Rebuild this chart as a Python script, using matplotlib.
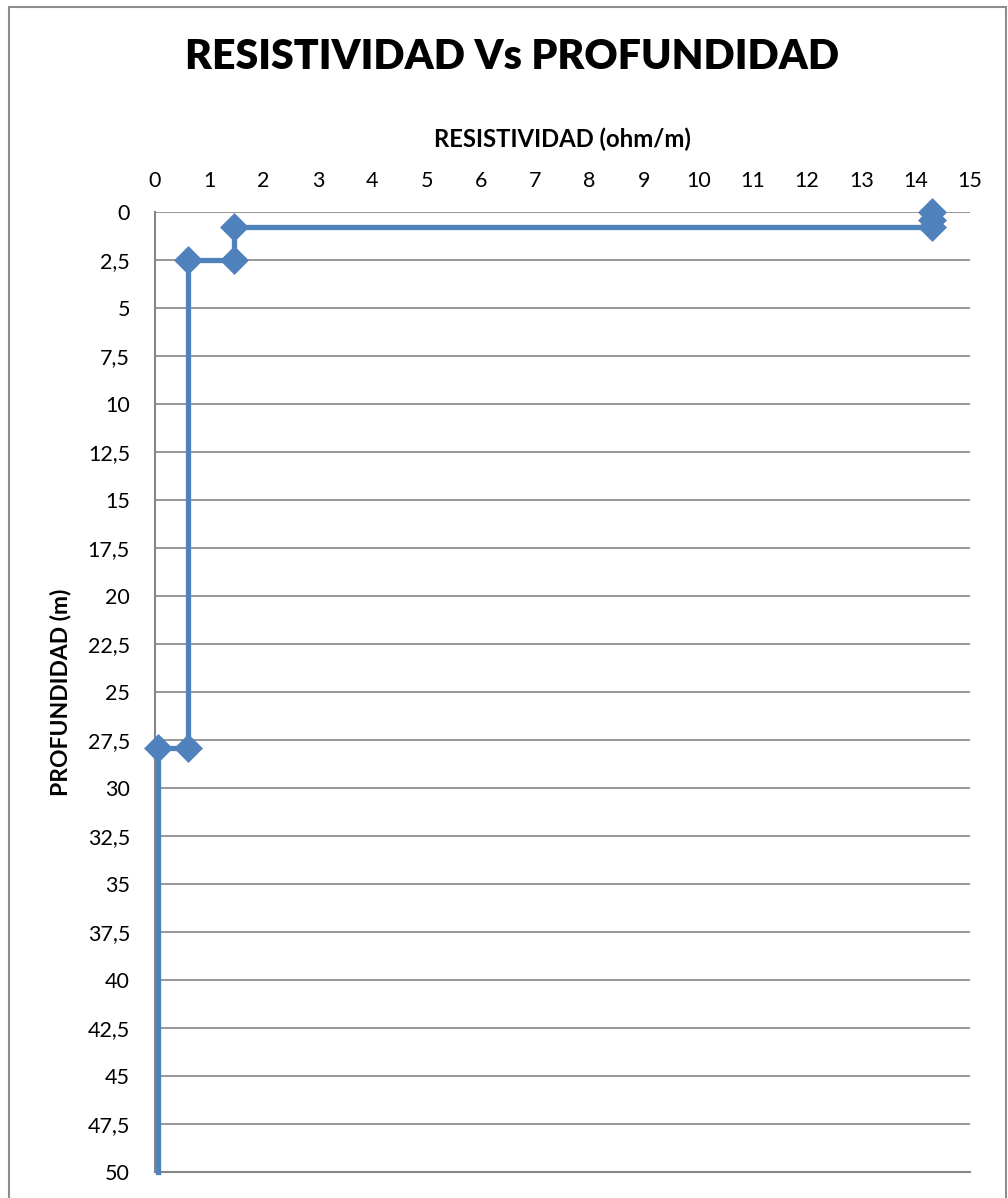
import matplotlib
matplotlib.use("Agg")
import matplotlib.pyplot as plt
from matplotlib.patches import Rectangle

plt.rcParams['font.family'] = ['Lato', 'DejaVu Sans']

# Resistivity profile (ohm/m) versus depth (m)
resistividad = [14.3, 14.3, 14.3, 1.45, 1.45, 0.6, 0.6, 0.05, 0.05]
profundidad = [0.0, 0.4, 0.8, 0.8, 2.5, 2.5, 27.9, 27.9, 50.0]

x_ticks = list(range(0, 16))
y_ticks = [0, 2.5, 5, 7.5, 10, 12.5, 15, 17.5, 20, 22.5, 25, 27.5, 30,
           32.5, 35, 37.5, 40, 42.5, 45, 47.5, 50]
y_tick_labels = ['0', '2,5', '5', '7,5', '10', '12,5', '15', '17,5', '20',
                 '22,5', '25', '27,5', '30', '32,5', '35', '37,5', '40',
                 '42,5', '45', '47,5', '50']

W, H = 1008, 1198
fig = plt.figure(figsize=(W / 100, H / 100), dpi=100)

# chart frame
fig.patches.append(Rectangle((8.5 / W, -0.01), (1006 - 8.5) / W, 1 - 6.5 / H + 0.01,
                             transform=fig.transFigure, fill=False,
                             edgecolor='#8c8c8c', linewidth=1.5))

left, right = 155 / W, 970 / W
top, bottom = 1 - 212 / H, 1 - 1172 / H
ax = fig.add_axes([left, bottom, right - left, top - bottom])

ax.set_xlim(0, 15)
ax.set_ylim(50, 0)
ax.set_xticks(x_ticks)
ax.set_yticks(y_ticks)
ax.set_yticklabels(y_tick_labels)
ax.xaxis.tick_top()
ax.xaxis.set_label_position('top')
ax.tick_params(axis='both', length=0, labelsize=15.5, colors='black')
ax.tick_params(axis='x', pad=15)
ax.tick_params(axis='y', pad=18)

for s in ['top', 'right']:
    ax.spines[s].set_visible(False)
for s in ['left', 'bottom']:
    ax.spines[s].set_color('#868686')
    ax.spines[s].set_linewidth(1.5)

ax.grid(axis='y', color='#868686', linewidth=1.2)
ax.set_axisbelow(True)

line, = ax.plot(resistividad, profundidad, color='#4F81BD', linewidth=3.8,
                marker='D', markersize=12, markevery=list(range(len(resistividad) - 1)),
                markeredgewidth=2.5, markeredgecolor='#4F81BD',
                solid_joinstyle='miter', clip_on=False, zorder=3)

ax.set_xlabel('RESISTIVIDAD (ohm/m)', fontsize=17.2, fontweight='bold', labelpad=17)
ax.set_ylabel('PROFUNDIDAD (m)', fontsize=16.5, fontweight='bold', labelpad=12)

fig.text(512 / W, 1 - 57 / H, 'RESISTIVIDAD Vs PROFUNDIDAD', ha='center', va='center',
         fontsize=29.5, fontweight='heavy')

fig.savefig('out.png', dpi=100)
